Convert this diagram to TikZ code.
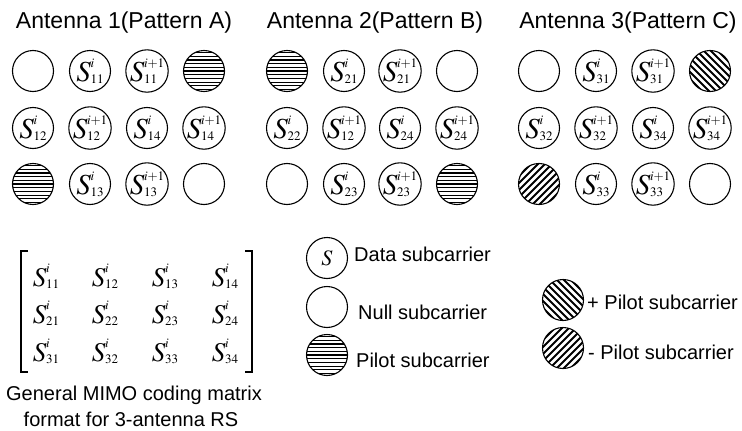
\documentclass[tikz,border=0pt]{standalone}
\usepackage{mathptmx}
\usepackage[no-math]{fontspec}
\setmainfont{Liberation Sans}

% S with superscript and subscript, stacked by hand
\newcommand{\scr}{\fontsize{13}{13}\selectfont}
\newcommand{\Sij}[2]{$S$\kern-0.5pt\begingroup\scr
	\setbox0=\hbox{$#1$}\setbox2=\hbox{$#2$}%
	\ifdim\wd0>\wd2 \wd2=\wd0 \else \wd0=\wd2 \fi
	\rlap{\raisebox{14.5pt}{\box0}}\raisebox{-1.5pt}{\box2}\endgroup}

\tikzset{
	sub/.style={circle, draw, line width=1.1pt, minimum size=41pt, inner sep=0pt, font=\fontsize{29}{29}\selectfont},
	hpilot/.style={sub, path picture={\foreach \k in {-5,...,5} \draw[line width=1.2pt, shift={(path picture bounding box.center)}] (-25,\k*3.7) -- (25,\k*3.7);}},
	ppilot/.style={sub, path picture={\foreach \k in {-7,...,7} \draw[line width=1.8pt, shift={(path picture bounding box.center)}] (\k*7-30,-30) -- (\k*7+30,30);}},
	mpilot/.style={sub, path picture={\foreach \k in {-7,...,7} \draw[line width=1.8pt, shift={(path picture bounding box.center)}] (\k*7-30,30) -- (\k*7+30,-30);}},
	title/.style={font=\fontsize{23}{23}\selectfont},
	legend/.style={anchor=west, inner sep=0pt, font=\fontsize{20}{24}\selectfont},
	caption/.style={anchor=base, inner sep=0pt, font=\fontsize{20}{24}\selectfont},
	entry/.style={inner sep=0pt, font=\fontsize{27}{27}\selectfont}
}

\begin{document}
\begin{tikzpicture}[x=1pt, y=-1pt]
	\useasboundingbox (0,0) rectangle (742,431);
	
	% antenna 1
	\node[title] (t1) at (124,23) {Antenna 1(Pattern A)};
	\node[sub] (a11) at (33,71) {};
	\node[sub] (a12) at (90,71) {\Sij{i}{11}};
	\node[sub] (a13) at (147,71) {\Sij{i{+}1}{11}};
	\node[hpilot] (a14) at (204,71) {};
	\node[sub] (a21) at (33,128) {\Sij{i}{12}};
	\node[sub] (a22) at (90,128) {\Sij{i{+}1}{12}};
	\node[sub] (a23) at (147,128) {\Sij{i}{14}};
	\node[sub] (a24) at (204,128) {\Sij{i{+}1}{14}};
	\node[hpilot] (a31) at (33,184) {};
	\node[sub] (a32) at (90,184) {\Sij{i}{13}};
	\node[sub] (a33) at (147,184) {\Sij{i{+}1}{13}};
	\node[sub] (a34) at (204,184) {};
	
	% antenna 2
	\node[title] (t2) at (375,23) {Antenna 2(Pattern B)};
	\node[hpilot] (b11) at (287,71) {};
	\node[sub] (b12) at (344,71) {\Sij{i}{21}};
	\node[sub] (b13) at (400,71) {\Sij{i{+}1}{21}};
	\node[sub] (b14) at (457,71) {};
	\node[sub] (b21) at (287,128) {\Sij{i}{22}};
	\node[sub] (b22) at (344,128) {\Sij{i{+}1}{12}};
	\node[sub] (b23) at (400,128) {\Sij{i}{24}};
	\node[sub] (b24) at (457,128) {\Sij{i{+}1}{24}};
	\node[sub] (b31) at (287,184) {};
	\node[sub] (b32) at (344,184) {\Sij{i}{23}};
	\node[sub] (b33) at (400,184) {\Sij{i{+}1}{23}};
	\node[hpilot] (b34) at (457,184) {};
	
	% antenna 3
	\node[title] (t3) at (628,23) {Antenna 3(Pattern C)};
	\node[sub] (c11) at (539,71) {};
	\node[sub] (c12) at (596,71) {\Sij{i}{31}};
	\node[sub] (c13) at (653,71) {\Sij{i{+}1}{31}};
	\node[ppilot] (c14) at (710,71) {};
	\node[sub] (c21) at (539,128) {\Sij{i}{32}};
	\node[sub] (c22) at (596,128) {\Sij{i{+}1}{32}};
	\node[sub] (c23) at (653,128) {\Sij{i}{34}};
	\node[sub] (c24) at (710,128) {\Sij{i{+}1}{34}};
	\node[mpilot] (c31) at (539,184) {};
	\node[sub] (c32) at (596,184) {\Sij{i}{33}};
	\node[sub] (c33) at (653,184) {\Sij{i{+}1}{33}};
	\node[sub] (c34) at (710,184) {};
	
	% coding matrix
	\draw[line width=1.1pt] (28,251) -- (21,251) -- (21,372) -- (28,372);
	\draw[line width=1.1pt] (245,251) -- (252,251) -- (252,372) -- (245,372);
	\foreach \r/\y in {1/276, 2/313, 3/351}
		\foreach \c/\x in {1/46, 2/105, 3/165, 4/225}
			\node[entry] (m\r\c) at (\x,\y) {\Sij{i}{\r\c}};
	\node[caption] (cap1) at (134,400) {General MIMO coding matrix};
	\node[caption] (cap2) at (131,426) {format for 3-antenna RS};
	
	% legend
	\node[sub, font=\fontsize{22}{22}\selectfont] (ldata) at (327,258) {$S$};
	\node[legend] (ldatat) at (354,254) {Data subcarrier};
	\node[sub] (lnull) at (327,307) {};
	\node[legend] (lnullt) at (358,312) {Null subcarrier};
	\node[hpilot] (lpilot) at (327,355) {};
	\node[legend] (lpilott) at (356,360) {Pilot subcarrier};
	\node[ppilot] (lplus) at (563,300) {};
	\node[legend] (lplust) at (587,302) {+ Pilot subcarrier};
	\node[mpilot] (lminus) at (563,348) {};
	\node[legend] (lminust) at (588,352) {- Pilot subcarrier};
\end{tikzpicture}
\end{document}
